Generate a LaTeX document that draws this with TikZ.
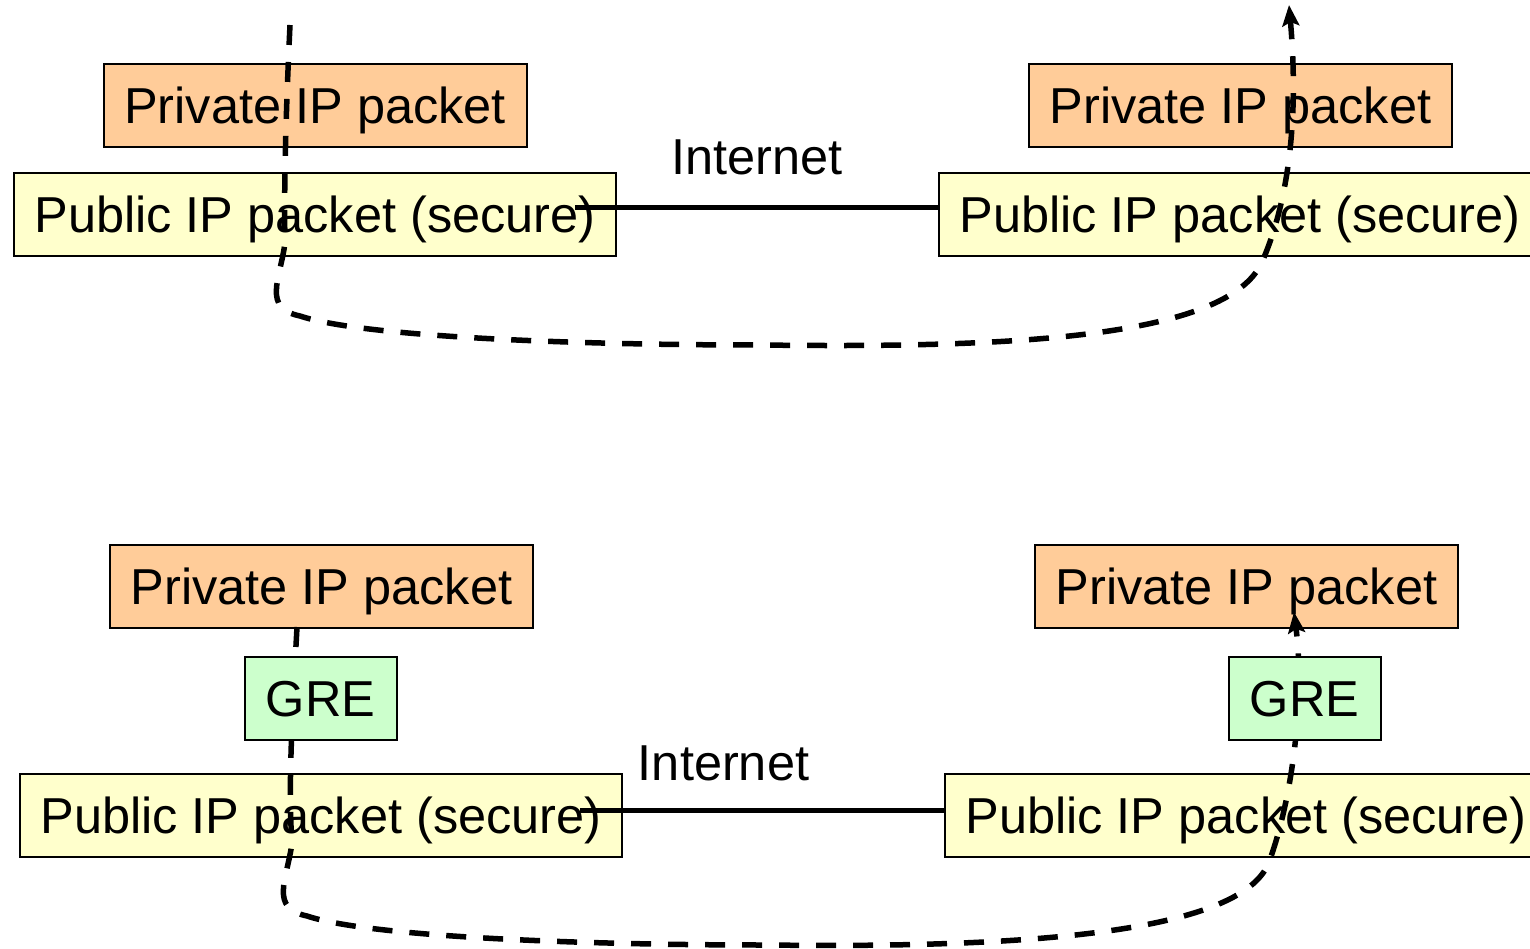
\documentclass[tikz,border=0pt]{standalone}
\usepackage{fontspec}
\setmainfont{Liberation Sans}
\usetikzlibrary{arrows.meta}
\definecolor{privfill}{HTML}{FFCC99}
\definecolor{pubfill}{HTML}{FFFFCC}
\definecolor{grefill}{HTML}{CCFFCC}
\begin{document}
\begin{tikzpicture}[x=1pt,y=-1pt,
  lbl/.style={inner sep=0pt, text height=36pt, text depth=0pt,
    font=\fontsize{50.5}{60}\selectfont},
  box/.style={lbl, draw=black, line width=2pt, minimum height=83pt},
  privbox/.style={box, fill=privfill, minimum width=423pt},
  pubbox/.style={box, fill=pubfill, minimum width=602pt},
  grebox/.style={box, fill=grefill, minimum width=152pt},
  link/.style={line width=5pt},
  flow/.style={line width=5.5pt, dash pattern=on 20pt off 17pt,
    -{Stealth[length=21pt,width=17pt,inset=4pt]}}]
\useasboundingbox (0,0) rectangle (1530,949);

% ---------- upper scenario: plain tunnel ----------
\node[privbox] (privA) at (315,105.5) {Private IP packet};
\node[pubbox]  (pubA)  at (315,214.5) {Public IP packet (secure)};
\node[privbox] (privB) at (1240.5,105.5) {Private IP packet};
\node[pubbox]  (pubB)  at (1240,214.5) {Public IP packet (secure)};

\coordinate (netA) at (575,208);
\coordinate (netB) at (pubB.west |- netA);
\draw[link] (netA) -- (netB);
\node[lbl] (inetA) at (757,157) {Internet};

\coordinate (a0) at (290,25);
\coordinate (a1) at (285,243);
\coordinate (a2) at (300,316);
\coordinate (a3) at (760,345);
\coordinate (a4) at (1262,262);
\coordinate (a5) at (1289,5);
\draw[flow] (a0) .. controls (285,130) and (284,200) .. (a1)
  .. controls (280,280) and (262,308) .. (a2)
  .. controls (360,336) and (560,345) .. (a3)
  .. controls (1000,348) and (1227,340) .. (a4)
  .. controls (1285,210) and (1300,130) .. (a5);

% ---------- lower scenario: GRE inside the tunnel ----------
\node[privbox] (privC) at (321.5,586) {Private IP packet};
\node[pubbox]  (pubC)  at (321,815.5) {Public IP packet (secure)};
\node[privbox] (privD) at (1246.5,586) {Private IP packet};
\node[pubbox]  (pubD)  at (1246,815.5) {Public IP packet (secure)};

\coordinate (netC) at (580,810);
\coordinate (netD) at (pubD.west |- netC);
\draw[link] (netC) -- (netD);
\node[lbl] (inetC) at (723.5,762) {Internet};

\coordinate (c0) at (297,627);
\coordinate (c1) at (292,843);
\coordinate (c2) at (307,916);
\coordinate (c3) at (767,945);
\coordinate (c4) at (1269,862);
\coordinate (c5) at (1294,612);
\draw[flow] (c0) .. controls (292,720) and (288,790) .. (c1)
  .. controls (287,880) and (269,908) .. (c2)
  .. controls (367,936) and (567,945) .. (c3)
  .. controls (1007,948) and (1241,936) .. (c4)
  .. controls (1292,800) and (1305,700) .. (c5);

\node[grebox] (greC) at (320.5,698.5) {GRE};
\node[grebox] (greD) at (1304.5,698.5) {GRE};
\end{tikzpicture}
\end{document}
